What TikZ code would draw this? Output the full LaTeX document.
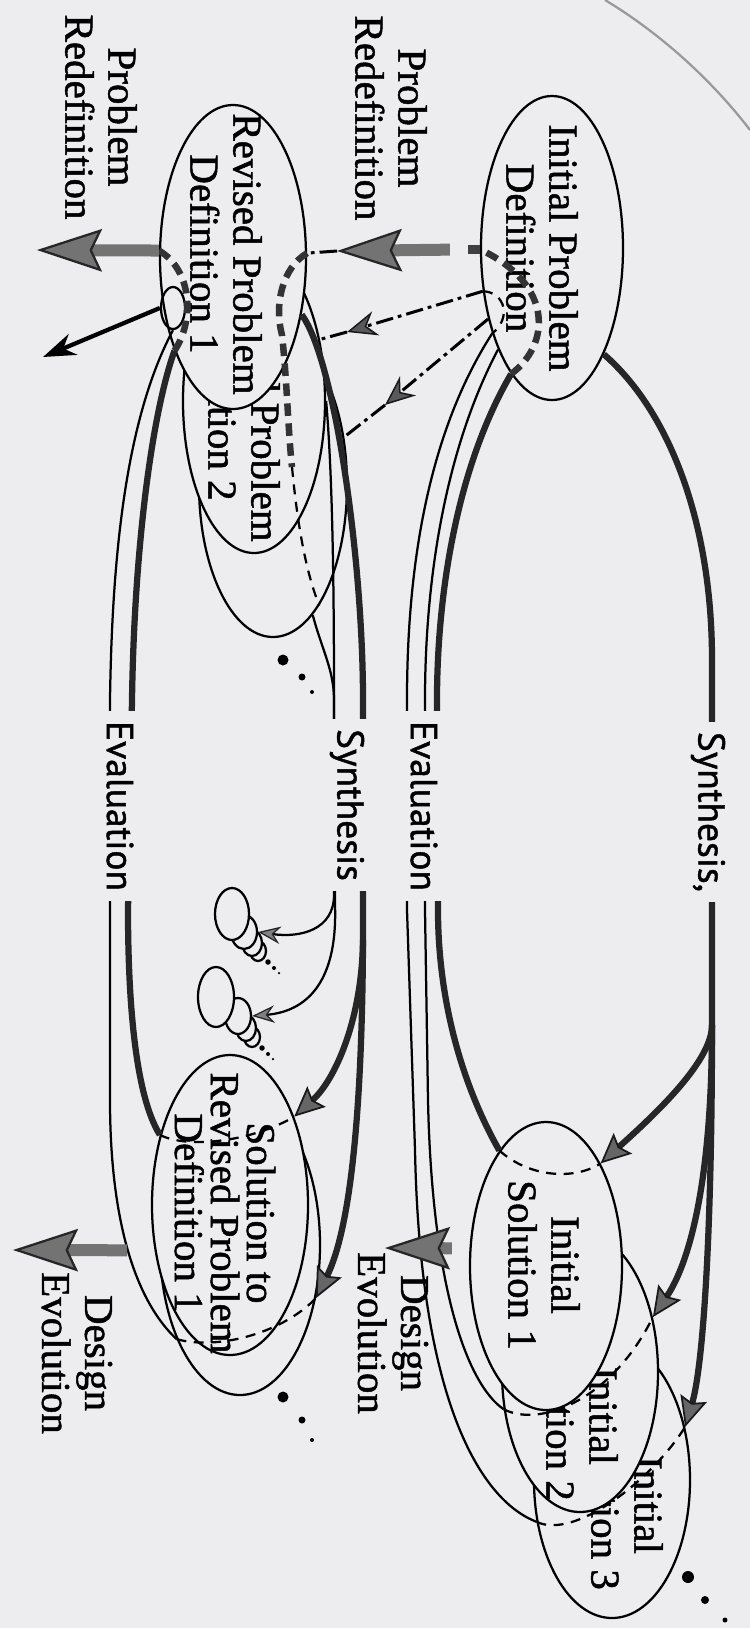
\documentclass[tikz,border=0pt]{standalone}
\usepackage{fontspec}
\setmainfont{Liberation Serif}[BoldFont=Liberation Serif, BoldFeatures={FakeBold=1.2}]
\newfontfamily\labelsans{PT Sans}[BoldFont=PT Sans, BoldFeatures={FakeBold=1.2}]
\usetikzlibrary{arrows.meta,shapes.geometric}
\definecolor{scanbg}{RGB}{237,237,240}

\tikzset{
  ell/.style 2 args={ellipse, draw, fill=scanbg, line width=0.9pt, minimum width=#1*0.8pt, minimum height=#2*0.8pt, inner sep=0pt},
  lbl/.style={rotate=-90, align=center, inner sep=0pt, text=black, font=\bfseries\fontsize{16.4}{17.2}\selectfont},
  gaplbl/.style={rotate=-90, fill=scanbg, inner xsep=4pt, inner ysep=0pt, text=black, font=\labelsans\bfseries\fontsize{15}{16}\selectfont},
  thickline/.style={line width=2.5pt, black!85},
  thinline/.style={line width=0.9pt},
  hidline/.style={line width=0.9pt, dash pattern=on 4pt off 3pt},
  hidthick/.style={line width=2.6pt, black!80, dash pattern=on 5pt off 3pt},
  ddline/.style={line width=1.2pt, dash pattern=on 7pt off 2pt on 1.5pt off 2pt},
  synhead/.style={-{Stealth[length=12pt,width=11pt,inset=2pt,line width=0.7pt,color=black!90,fill=black!60]}},
  smallhead/.style={-{Stealth[length=9pt,width=7pt,line width=0.5pt,color=black!85,fill=black!50]}},
  ddarrow/.style={ddline, -{Stealth[length=12pt,width=10pt,line width=0.6pt,color=black!90,fill=black!65]}},
  grayarrow/.style={line width=4.8pt, black!55, -{Stealth[length=26pt,width=17pt,inset=4pt,line width=0.9pt,color=black!85,fill=black!55]}},
  redarrow/.style={line width=1.7pt, -{Stealth[length=13pt,width=9pt]}}
}

\begin{document}
\begin{tikzpicture}[x=0.4pt, y=-0.4pt]
\useasboundingbox (0,0) rectangle (750,1628);
\fill[scanbg] (0,0) rectangle (750,1628);
% edge of the scanned page
\draw[black!40, line width=0.9pt] (605,0) .. controls (668,38) and (718,88) .. (750,130);

% problem definitions
\node[ell={71}{152}] (ipd) at (552,248) {};
\node[lbl] (ipdtext) at (542,248) {Initial Problem\\Definition};
\node[ell={74}{152}] (rpd3) at (273,485) {};
\node[ell={71}{152}] (rpd2) at (254,401) {};
\node[lbl] (rpd2text) at (244,401) {Revised Problem\\Definition 2};
\node[ell={73}{152}] (rpd1) at (233,257) {};
\node[lbl] (rpd1text) at (226,254) {Revised Problem\\Definition 1};
\node[ell={12}{21}, fill=none] (ring) at (173,308) {};

% solutions
\node[ell={78}{138}] (is3) at (612,1480) {};
\node[lbl] (is3text) at (627,1505) {Initial\\Solution 3};
\node[ell={78}{140}] (is2) at (580,1372) {};
\node[lbl] (is2text) at (582,1416) {Initial\\Solution 2};
\node[ell={76}{144}] (is1) at (546,1266) {};
\node[lbl] (is1text) at (544,1265) {Initial\\Solution 1};
\node[ell={80}{150}] (srpd2) at (240,1245) {};
\node[ell={78}{150}] (srpd1) at (230,1205) {};
\node[lbl, font=\bfseries\fontsize{16.4}{14.4}\selectfont] (srpd1text) at (225,1213) {Solution to\\Revised Problem\\Definition 1};

% small solution stacks
\node[ell={8}{10}] (cla4) at (258,951) {};
\node[ell={10}{13}] (cla3) at (252,943) {};
\node[ell={13}{17}] (cla2) at (244,932) {};
\node[ell={17}{26}] (cla1) at (232,914) {};
\node[ell={8}{10}] (clb4) at (252,1037) {};
\node[ell={10}{13}] (clb3) at (246,1028) {};
\node[ell={13}{18}] (clb2) at (238,1016) {};
\node[ell={18}{30}] (clb1) at (216,997) {};
\fill (268,962) circle[radius=1.1pt] (274,968) circle[radius=0.8pt] (279,973) circle[radius=0.5pt];
\fill (262,1048) circle[radius=1.1pt] (268,1054) circle[radius=0.8pt] (273,1059) circle[radius=0.5pt];

% dots after the stacks
\fill (283,660) circle[radius=2.2pt] (302,677) circle[radius=1.4pt] (312,692) circle[radius=0.8pt];
\fill (283,1397) circle[radius=2.2pt] (302,1420) circle[radius=1.4pt] (312,1440) circle[radius=0.8pt];
\fill (688,1577) circle[radius=2.4pt] (705,1600) circle[radius=1.6pt] (725,1620) circle[radius=1pt];

% branch points and free ends
\coordinate (tsplit) at (712,1025);
\coordinate (bsplit) at (363,940);
\coordinate (bthin) at (334,700);
\coordinate (rdmid) at (292,467);
\coordinate (prtipA) at (337,251);
\coordinate (prtipB) at (37,250);
\coordinate (rrtipB) at (347,332);
\coordinate (rrtipC) at (385,405);
\coordinate (redtip) at (43,357);
\coordinate (detipA) at (385,1248);
\coordinate (detipB) at (13,1250);

% synthesis, first loop
\draw[thickline] (ipd.296) .. controls (668,410) and (712,520) .. (712,660) -- (tsplit);
\draw[thickline, synhead] (tsplit) .. controls (712,1060) and (660,1110) .. (is1.62);
\draw[thickline, synhead] (tsplit) .. controls (712,1180) and (690,1262) .. (is2.37);
\draw[thickline, synhead] (tsplit) .. controls (712,1250) and (702,1370) .. (is3.36);

% evaluation, first loop
\draw[thickline] (is1.112) .. controls (462,1085) and (438,1000) .. (438,910) -- (437,700) .. controls (437,600) and (455,470) .. (ipd.252);
\draw[thinline] (is2.206) .. controls (468,1385) and (432,1290) .. (428,1100) -- (425,910) -- (425,700) .. controls (425,580) and (445,450) .. (ipd.242);
\draw[thinline] (is3.209) .. controls (480,1500) and (420,1400) .. (415,1150) -- (407,910) -- (407,700) .. controls (407,560) and (430,430) .. (ipd.235);

% hidden parts
\draw[hidline] (is1.112) .. controls (530,1178) and (575,1180) .. (is1.62);
\draw[hidline] (is2.206) .. controls (540,1428) and (612,1400) .. (is2.37);
\draw[hidline] (is3.209) .. controls (575,1540) and (652,1480) .. (is3.36);
\draw[hidthick] (ipd.252) .. controls (550,345) and (555,285) .. (ipd.181);
\draw[hidline] (ipd.212) .. controls (505,292) and (512,318) .. (ipd.235);

% problem redefinition out of the initial definition
\draw[line width=3.5pt, black!75] (ipd.181) -- ++(-12,0);
\draw[grayarrow, shorten <=12pt] (ipd.181) -- (prtipA);
\draw[ddline] (prtipA) -- (rpd1.3);
\draw[ddarrow] (ipd.212) -- (rrtipB);
\draw[ddline] (rrtipB) -- (rpd2.43);
\draw[ddarrow] (ipd.228) -- (rrtipC);
\draw[ddline] (rrtipC) -- (rpd3.34);

% inside the revised definition
\draw[hidthick] (rpd1.3) .. controls (282,268) and (274,305) .. (282,335) .. controls (287,380) and (288,430) .. (rdmid);
\draw[hidline] (rdmid) .. controls (297,520) and (305,570) .. (rpd3.291);
\draw[hidthick] (rpd1.238) .. controls (195,320) and (192,270) .. (rpd1.175);

% problem redefinition out of the revised definition
\draw[grayarrow] (rpd1.175) -- (prtipB);
\draw[redarrow] (ring.west) -- (redtip);

% synthesis, second loop
\draw[thickline] (rpd1.320) .. controls (335,360) and (363,560) .. (363,700) -- (bsplit);
\draw[thickline, synhead] (bsplit) .. controls (362,1020) and (335,1080) .. (srpd1.54);
\draw[thickline, synhead] (bsplit) .. controls (362,1150) and (345,1240) .. (srpd2.325);
\draw[thinline] (rpd2.0) .. controls (333,480) and (334,600) .. (bthin);
\draw[thinline] (rpd3.287) .. controls (322,650) and (334,670) .. (bthin);
\draw[thinline, smallhead] (bthin) -- (334,895) .. controls (334,930) and (300,938) .. (cla2.east);
\draw[thinline, smallhead] (bthin) -- (335,905) .. controls (338,990) and (300,1012) .. (clb2.east);

% evaluation, second loop
\draw[thickline] (srpd1.135) .. controls (135,1095) and (128,1000) .. (128,910) -- (132,700) .. controls (134,560) and (150,420) .. (rpd1.238);
\draw[thinline] (srpd2.236) .. controls (135,1300) and (110,1220) .. (110,1100) -- (110,700) .. controls (112,560) and (125,420) .. (ring.south);
\draw[hidline] (srpd1.135) .. controls (190,1150) and (255,1140) .. (srpd1.54);
\draw[hidline] (srpd2.236) .. controls (215,1350) and (280,1335) .. (srpd2.325);

% design evolution
\draw[grayarrow, shorten <=7pt] (is1.167) -- (detipA);
\draw[grayarrow, shorten <=11pt] (srpd1.211) -- (detipB);

% labels
\node[lbl] (prlblA) at (101,117) {Problem\\Redefinition};
\node[lbl] (prlblB) at (391,118) {Problem\\Redefinition};
\node[lbl] (delblA) at (393,1333) {Design\\Evolution};
\node[lbl] (delblB) at (77,1353) {Design\\Evolution};
\node[gaplbl, minimum height=15pt] (synA) at (708,812) {Synthesis,};
\node[gaplbl, minimum height=20pt] (evA) at (424,806) {Evaluation};
\node[gaplbl, minimum height=18pt] (synB) at (347,805) {Synthesis};
\node[gaplbl, minimum height=17pt] (evB) at (120,806) {Evaluation};
\end{tikzpicture}
\end{document}
